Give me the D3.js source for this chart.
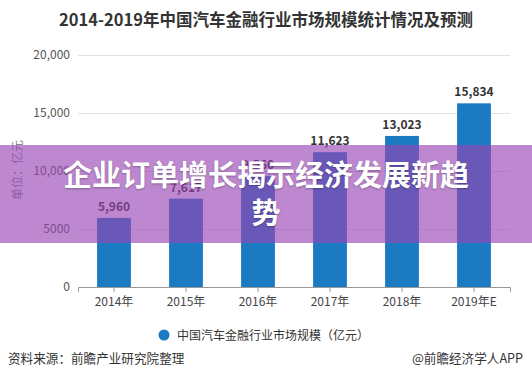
<!DOCTYPE html>
<html>
<head>
<meta charset="utf-8">
<script src="https://cdn.jsdelivr.net/npm/d3@7"></script>
<style>
  body { margin: 0; background: #fff; }
  svg { display: block; font-family: "Noto Sans CJK SC", "Noto Sans", sans-serif; }
</style>
</head>
<body>
<svg id="chart" width="532" height="388"></svg>
<script>
// 数据
const years = ["2014年", "2015年", "2016年", "2017年", "2018年", "2019年E"];
const marketSize = [5960, 7617, 9560, 11623, 13023, 15834];
const yTicks = [0, 5000, 10000, 15000, 20000];
const yTickLabels = ["0", "5000", "10,000", "15,000", "20,000"];

const chartTitle = "2014-2019年中国汽车金融行业市场规模统计情况及预测";
const unitLabel = "单位：亿元";
const legendLabel = "中国汽车金融行业市场规模（亿元）";
const sourceLabel = "资料来源：前瞻产业研究院整理";
const brandLabel = "@前瞻经济学人APP";
const overlayLines = ["企业订单增长揭示经济发展新趋", "势"];

const svg = d3.select("#chart");
const plotLeft = 78, plotRight = 510, plotTop = 55, plotBottom = 287;
const barColor = "#1a7bc3";

const x = d3.scaleBand()
  .domain(years)
  .range([plotLeft, plotRight])
  .paddingInner(0.53)
  .paddingOuter(0.265);

const y = d3.scaleLinear()
  .domain([0, 20000])
  .range([plotBottom, plotTop]);

// 标题
svg.append("text")
  .attr("x", 266)
  .attr("y", 26)
  .attr("text-anchor", "middle")
  .attr("font-size", 16.5)
  .attr("font-weight", "bold")
  .attr("fill", "#333")
  .text(chartTitle);

// 网格线 + y轴刻度
const yAxis = d3.axisLeft(y)
  .tickValues(yTicks)
  .tickSize(-(plotRight - plotLeft))
  .tickPadding(8)
  .tickFormat((d, i) => yTickLabels[i]);

const gy = svg.append("g")
  .attr("transform", `translate(${plotLeft},0)`)
  .call(yAxis);
gy.select(".domain").remove();
gy.selectAll(".tick line").attr("stroke", "#e0e0e0");
gy.selectAll(".tick text")
  .attr("font-size", 12)
  .attr("fill", "#555")
  .attr("font-family", "Noto Sans CJK SC, sans-serif");

// 单位
svg.append("text")
  .attr("transform", "translate(22,170) rotate(-90)")
  .attr("text-anchor", "middle")
  .attr("font-size", 12)
  .attr("fill", "#888")
  .text(unitLabel);

// 柱子
svg.append("g")
  .selectAll("rect")
  .data(marketSize)
  .join("rect")
  .attr("x", (d, i) => x(years[i]))
  .attr("y", d => y(d))
  .attr("width", x.bandwidth())
  .attr("height", d => plotBottom - y(d))
  .attr("fill", barColor);

// 数值标签
svg.append("g")
  .selectAll("text")
  .data(marketSize)
  .join("text")
  .attr("x", (d, i) => x(years[i]) + x.bandwidth() / 2)
  .attr("y", d => y(d) - 7)
  .attr("text-anchor", "middle")
  .attr("font-size", 12)
  .attr("font-weight", "bold")
  .attr("fill", "#333")
  .text(d => d3.format(",")(d));

// x轴
const xAxis = d3.axisBottom(x).tickSize(5).tickPadding(5);
const gx = svg.append("g")
  .attr("transform", `translate(0,${plotBottom})`)
  .call(xAxis);
gx.select(".domain").attr("stroke", "#999");
gx.selectAll(".tick line").attr("stroke", "#999");
gx.selectAll(".tick text")
  .attr("font-size", 12)
  .attr("fill", "#444")
  .attr("font-family", "Noto Sans CJK SC, sans-serif");

// 图例
svg.append("circle")
  .attr("cx", 164)
  .attr("cy", 335)
  .attr("r", 5.5)
  .attr("fill", barColor);
svg.append("text")
  .attr("x", 177)
  .attr("y", 340)
  .attr("font-size", 12)
  .attr("fill", "#333")
  .text(legendLabel);

// 来源
svg.append("text")
  .attr("x", 8)
  .attr("y", 363)
  .attr("font-size", 12.6)
  .attr("fill", "#333")
  .text(sourceLabel);
svg.append("text")
  .attr("x", 523)
  .attr("y", 363)
  .attr("text-anchor", "end")
  .attr("font-size", 12.6)
  .attr("fill", "#333")
  .text(brandLabel);

// 紫色遮罩横幅
svg.append("rect")
  .attr("x", 0)
  .attr("y", 145)
  .attr("width", 532)
  .attr("height", 98)
  .attr("fill", "rgb(152,69,180)")
  .attr("fill-opacity", 0.64);

svg.append("g")
  .selectAll("text")
  .data(overlayLines)
  .join("text")
  .attr("x", 266)
  .attr("y", (d, i) => 186 + i * 38)
  .attr("text-anchor", "middle")
  .attr("font-size", 29)
  .attr("font-weight", "bold")
  .attr("fill", "#fff")
  .style("text-shadow", "0 1px 2px rgba(0,0,0,0.3)")
  .text(d => d);
</script>
</body>
</html>
